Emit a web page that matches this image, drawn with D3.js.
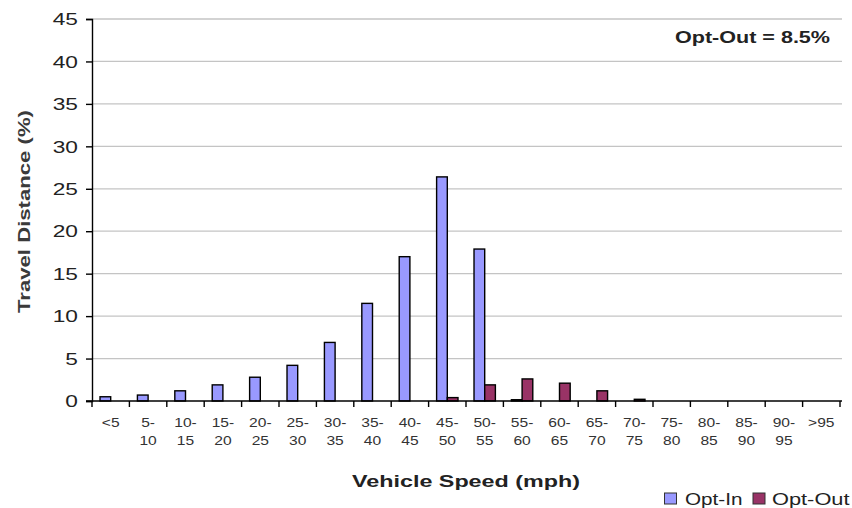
<!DOCTYPE html>
<html>
<head>
<meta charset="utf-8">
<script src="https://cdn.jsdelivr.net/npm/d3@7/dist/d3.min.js"></script>
<style>
  html, body { margin: 0; padding: 0; background: #fff; }
  svg { display: block; font-family: "Liberation Sans", Arial, sans-serif; }
</style>
</head>
<body>
<svg id="chart" width="852" height="508"></svg>
<script>
const categories = ["<5","5-10","10-15","15-20","20-25","25-30","30-35","35-40","40-45","45-50",
                    "50-55","55-60","60-65","65-70","70-75","75-80","80-85","85-90","90-95",">95"];
const optIn  = [0.5, 0.7, 1.2, 1.9, 2.8, 4.2, 6.9, 11.5, 17.0, 26.4, 17.9, 0.15, 0, 0, 0, 0, 0, 0, 0, 0];
const optOut = [0, 0, 0, 0, 0, 0, 0, 0, 0, 0.4, 1.9, 2.6, 2.1, 1.2, 0.2, 0, 0, 0, 0, 0];
const seriesNames = ["Opt-In", "Opt-Out"];
const seriesColors = ["#9999FF", "#993366"];
const yTicks = [0, 5, 10, 15, 20, 25, 30, 35, 40, 45];

const svg = d3.select("#chart");
const pLeft = 92, pRight = 840, pTop = 19, pBottom = 401;

const x = d3.scaleBand().domain(categories).range([pLeft, pRight]).paddingInner(0).paddingOuter(0);
const x1 = d3.scaleBand().domain(seriesNames).range([0, x.bandwidth()]).paddingInner(0).paddingOuter(0.75);
const y = d3.scaleLinear().domain([0, 45]).range([pBottom, pTop]);

// gridlines
svg.append("g").selectAll("line").data(yTicks.filter(d => d > 0)).join("line")
  .attr("x1", pLeft).attr("x2", pRight + 2)
  .attr("y1", d => y(d)).attr("y2", d => y(d))
  .attr("stroke", "#c4c4c4").attr("stroke-width", 1.3);

// bars
const rows = categories.map((c, i) => ({cat: c, vals: [optIn[i], optOut[i]]}));
const g = svg.append("g");
rows.forEach(r => {
  r.vals.forEach((v, k) => {
    if (v <= 0) return;
    const x0 = x(r.cat) + x1(seriesNames[k]);
    g.append("rect")
      .attr("x", x0).attr("y", y(v))
      .attr("width", x1.bandwidth()).attr("height", y(0) - y(v))
      .attr("fill", seriesColors[k]).attr("stroke", "#000").attr("stroke-width", 1.4);
  });
});

// y axis
const yAxis = d3.axisLeft(y).tickValues(yTicks).tickSize(6).tickPadding(4).tickFormat(d3.format("d"));
const ya = svg.append("g").attr("transform", `translate(${pLeft},0)`).call(yAxis);
ya.select(".domain").attr("stroke", "#000").attr("stroke-width", 1.4);
ya.selectAll(".tick line").attr("stroke", "#000").attr("stroke-width", 1.4);
ya.selectAll(".tick text")
  .attr("x", 0).attr("dy", "0.36em")
  .attr("transform", "translate(-14,0) scale(1.42,1)")
  .attr("font-size", 16).attr("fill", "#222")
  .attr("font-family", "Liberation Sans, Arial, sans-serif");

// x axis line & ticks at category boundaries
svg.append("line").attr("x1", pLeft - 6).attr("x2", pRight + 2).attr("y1", pBottom).attr("y2", pBottom)
  .attr("stroke", "#000").attr("stroke-width", 1.4);
const bounds = categories.map(c => x(c)).concat([pRight]);
svg.append("g").selectAll("line").data(bounds).join("line")
  .attr("x1", d => d).attr("x2", d => d).attr("y1", pBottom).attr("y2", pBottom + 6)
  .attr("stroke", "#000").attr("stroke-width", 1.4);

// x labels (two lines)
const lab = svg.append("g");
categories.forEach(c => {
  const cx = x(c) + x.bandwidth() / 2;
  const idx = c.indexOf("-");
  const lines = idx >= 0 ? [c.slice(0, idx + 1), c.slice(idx + 1)] : [c];
  lines.forEach((t, j) => {
    lab.append("text")
      .attr("transform", `translate(${cx},${427 + j * 18}) scale(1.3,1)`)
      .attr("text-anchor", "middle").attr("font-size", 12).attr("fill", "#333")
      .text(t);
  });
});

// axis titles
svg.append("text").attr("transform", "translate(30,211.5) rotate(-90)")
  .attr("text-anchor", "middle").attr("font-size", 16).attr("font-weight", "bold").attr("fill", "#3a3a3a")
  .attr("textLength", 203).attr("lengthAdjust", "spacingAndGlyphs")
  .text("Travel Distance (%)");
svg.append("text").attr("x", 352).attr("y", 487)
  .attr("font-size", 16).attr("font-weight", "bold").attr("fill", "#222")
  .attr("textLength", 228).attr("lengthAdjust", "spacingAndGlyphs")
  .text("Vehicle Speed (mph)");

// annotation
svg.append("text").attr("x", 675).attr("y", 43)
  .attr("font-size", 16).attr("font-weight", "bold").attr("fill", "#222")
  .attr("textLength", 155).attr("lengthAdjust", "spacingAndGlyphs")
  .text("Opt-Out = 8.5%");

// legend
const leg = svg.append("g");
const legX = [664.5, 753];
const legTextX = [685, 772];
const legTextLen = [57.5, 77.5];
seriesNames.forEach((s, k) => {
  leg.append("rect").attr("x", legX[k]).attr("y", 493).attr("width", 12).attr("height", 11)
    .attr("fill", seriesColors[k]).attr("stroke", "#333").attr("stroke-width", 1);
  leg.append("text").attr("x", legTextX[k]).attr("y", 505).attr("font-size", 16.5).attr("fill", "#222")
    .attr("textLength", legTextLen[k]).attr("lengthAdjust", "spacingAndGlyphs")
    .text(s);
});
</script>
</body>
</html>
